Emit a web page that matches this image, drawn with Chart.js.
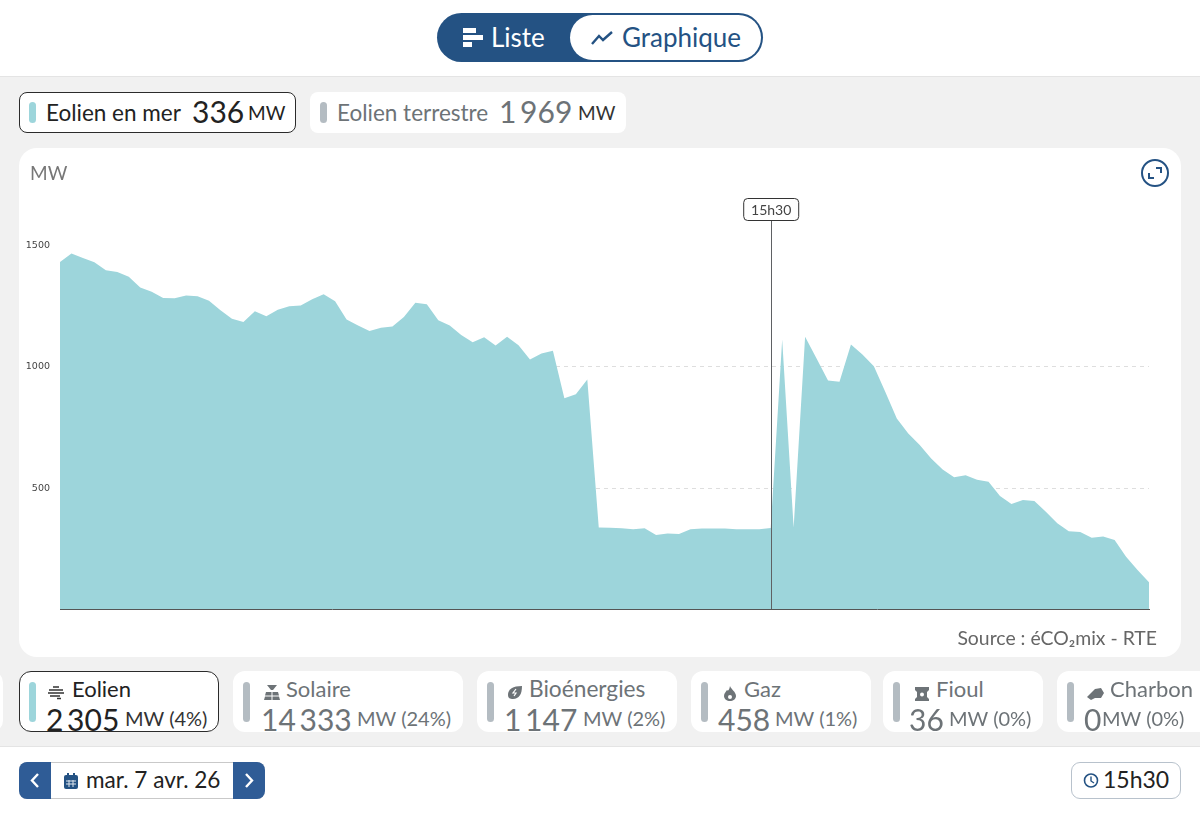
<!DOCTYPE html>
<html lang="fr">
<head>
<meta charset="utf-8">
<title>Eolien en mer</title>
<script src="https://cdn.jsdelivr.net/npm/chart.js@4"></script>
<style>
html, body { margin: 0; padding: 0; width: 1200px; height: 813px; overflow: hidden; background: #fff; font-family: Lato, "Noto Sans", sans-serif; color: #6d7377; }
.abs, .chip, .mark, .t { position: absolute; }
.t { white-space: nowrap; line-height: 1; }
.num { word-spacing: -4px; }
.chip { background: #fff; border-radius: 12px; box-sizing: border-box; }
.chip.on { border: 1px solid #2b2b2b; color: #222; }
.mark { width: 7px; border-radius: 4px; background: #b4bcc2; }
.mark.on { background: #9dd5db; }
svg { position: absolute; }
</style>
</head>
<body>
<!-- bands -->
<div class="abs" style="left:0;top:76px;width:1200px;height:671px;background:#f1f1f1;border-top:1px solid #e4e4e4;border-bottom:1px solid #e4e4e4;box-sizing:border-box"></div>

<!-- toggle -->
<div class="abs" style="left:437px;top:13px;width:326px;height:49px;background:#245283;border-radius:25px"></div>
<div class="abs" style="left:570px;top:15px;width:191px;height:45px;background:#fff;border-radius:23px"></div>
<svg style="left:463px;top:28px" width="20" height="19"><rect width="13" height="5" fill="#fff"/><rect y="7" width="20" height="5" fill="#fff"/><rect y="14" width="9" height="5" fill="#fff"/></svg>
<div class="t" style="left:491px;top:24px;font-size:26px;color:#fff">Liste</div>
<svg style="left:591px;top:30px" width="22" height="16"><path d="M1 14 L8 6 L12 10 L21 2" fill="none" stroke="#245283" stroke-width="2.4"/></svg>
<div class="t" style="left:622px;top:24px;font-size:26px;color:#245283">Graphique</div>

<!-- sub filters -->
<div class="chip on" style="left:19px;top:92px;width:277px;height:41px;border-radius:8px"></div>
<div class="mark on" style="left:29px;top:102px;height:21px"></div>
<div class="t" style="left:46px;top:102px;font-size:22.5px;color:#222">Eolien en mer</div>
<div class="t" style="left:192px;top:96px;font-size:30px;color:#222">336</div>
<div class="t" style="left:248px;top:103px;font-size:19px;color:#222">MW</div>
<div class="chip" style="left:310px;top:92px;width:316px;height:41px;border-radius:8px"></div>
<div class="mark" style="left:320px;top:102px;height:21px"></div>
<div class="t" style="left:337px;top:102px;font-size:22.5px">Eolien terrestre</div>
<div class="t num" style="left:499px;top:96px;font-size:30px">1 969</div>
<div class="t" style="left:578px;top:103px;font-size:19px;color:#333">MW</div>

<!-- chart card -->
<div class="abs" style="left:19px;top:148px;width:1162px;height:509px;background:#fff;border-radius:18px"></div>
<div class="abs" style="left:19px;top:148px;width:1162px;height:509px"><canvas id="wind-chart"></canvas></div>
<div class="t" style="left:30px;top:163px;font-size:19px;color:#777">MW</div>
<svg style="left:1141px;top:159px" width="28" height="28"><circle cx="14" cy="14" r="13" fill="none" stroke="#245283" stroke-width="2"/><path d="M15 9 H20 V14 M8 14 V19 H13" fill="none" stroke="#245283" stroke-width="2"/></svg>
<div class="t" style="right:43px;top:628px;font-size:19.4px;color:#666">Source : éCO₂mix - RTE</div>

<!-- sector chips -->
<div class="chip" style="left:-20px;top:671px;width:23px;height:61px"></div>

<div class="chip on" style="left:19px;top:671px;width:200px;height:61px"></div>
<div class="mark on" style="left:29px;top:682px;height:40px"></div>
<svg style="left:48px;top:684px" width="18" height="16"><path d="M5 3 H11 M1 6 H15 M0 9 H16 M2 12 H12 M9 14.5 H13" stroke="#333" stroke-width="1.4" fill="none"/></svg>
<div class="t" style="left:72px;top:678px;font-size:22px;color:#222">Eolien</div>
<div class="t num" style="left:46px;top:704px;font-size:30px;color:#222">2 305</div>
<div class="t" style="left:125px;top:708px;font-size:20px;color:#333">MW (4%)</div>

<div class="chip" style="left:233px;top:671px;width:230px;height:61px"></div>
<div class="mark" style="left:243px;top:682px;height:40px"></div>
<svg style="left:264px;top:684px" width="16" height="17"><path d="M3 1 H13 L9 6 H7 Z M2 8 H7.5 V11.5 H1 Z M8.5 8 H14 L15 11.5 H8.5 Z M1 12.5 H7.5 V16 H0 Z M8.5 12.5 H15 L16 16 H8.5 Z" fill="#6d7377"/></svg>
<div class="t" style="left:286px;top:678px;font-size:22px">Solaire</div>
<div class="t num" style="left:261px;top:704px;font-size:30px">14 333</div>
<div class="t" style="left:357px;top:708px;font-size:20px">MW (24%)</div>

<div class="chip" style="left:477px;top:671px;width:200px;height:61px"></div>
<div class="mark" style="left:487px;top:682px;height:40px"></div>
<svg style="left:507px;top:685px" width="16" height="15"><path d="M1 10 C1 4 6 1 15 1 C15 9 12 14 6 14 C3 14 1 13 1 10 Z" fill="#6d7377"/><path d="M9 4 L6 8 H9 L7 11" stroke="#fff" stroke-width="1.2" fill="none"/></svg>
<div class="t" style="left:529px;top:678px;font-size:22.7px">Bioénergies</div>
<div class="t num" style="left:504px;top:704px;font-size:30px">1 147</div>
<div class="t" style="left:583px;top:708px;font-size:20px">MW (2%)</div>

<div class="chip" style="left:691px;top:671px;width:180px;height:61px"></div>
<div class="mark" style="left:701px;top:682px;height:40px"></div>
<svg style="left:723px;top:686px" width="14" height="15"><path d="M7 0 C8 3 13 6 13 10 C13 13 10 15 7 15 C4 15 1 13 1 10 C1 7 3 6 4 4 C5 5 6 5 7 0 Z" fill="#6d7377"/><circle cx="7" cy="11" r="2" fill="#fff"/></svg>
<div class="t" style="left:744px;top:678px;font-size:22px">Gaz</div>
<div class="t" style="left:718px;top:704px;font-size:30px">458</div>
<div class="t" style="left:775px;top:708px;font-size:20px">MW (1%)</div>

<div class="chip" style="left:883px;top:671px;width:160px;height:61px"></div>
<div class="mark" style="left:893px;top:682px;height:40px"></div>
<svg style="left:915px;top:687px" width="14" height="14"><path d="M0 0 H14 V3 L12 5 V10 L14 12 V14 H0 V12 L2 10 V5 L0 3 Z" fill="#6d7377"/><circle cx="7" cy="7.5" r="2" fill="#fff"/></svg>
<div class="t" style="left:936px;top:678px;font-size:22px">Fioul</div>
<div class="t" style="left:909px;top:704px;font-size:30px">36</div>
<div class="t" style="left:949px;top:708px;font-size:20px">MW (0%)</div>

<div class="chip" style="left:1057px;top:671px;width:170px;height:61px"></div>
<div class="mark" style="left:1067px;top:682px;height:40px"></div>
<svg style="left:1087px;top:688px" width="17" height="13"><path d="M0 9 L4 5 L8 1 L14 0 L17 5 L14 10 L8 10 L4 12 Z" fill="#6d7377"/></svg>
<div class="t" style="left:1110px;top:678px;font-size:22px">Charbon</div>
<div class="t" style="left:1084px;top:704px;font-size:30px">0</div>
<div class="t" style="left:1102px;top:708px;font-size:20px">MW (0%)</div>

<!-- date bar -->
<div class="abs" style="left:19px;top:762px;width:246px;height:37px;background:#fff;border-top:1px solid #c9c9c9;border-bottom:1px solid #c9c9c9;border-radius:8px;box-sizing:border-box"></div>
<div class="abs" style="left:19px;top:762px;width:32px;height:37px;background:#2f5c96;border-radius:8px 0 0 8px"></div>
<div class="abs" style="left:233px;top:762px;width:32px;height:37px;background:#2f5c96;border-radius:0 8px 8px 0"></div>
<svg style="left:29px;top:772px" width="12" height="17"><path d="M9 2 L3 8.5 L9 15" fill="none" stroke="#fff" stroke-width="2.4"/></svg>
<svg style="left:243px;top:772px" width="12" height="17"><path d="M3 2 L9 8.5 L3 15" fill="none" stroke="#fff" stroke-width="2.4"/></svg>
<svg style="left:64px;top:773px" width="14" height="16"><rect y="2" width="14" height="14" rx="2" fill="#245283"/><path d="M2 8 H12 M2 11 H12 M5 7 V14 M9 7 V14" stroke="#dfe6ee" stroke-width="1"/><rect x="3" width="2" height="3" fill="#245283"/><rect x="9" width="2" height="3" fill="#245283"/></svg>
<div class="t" style="left:86px;top:769px;font-size:22.6px;color:#222">mar. 7 avr. 26</div>
<div class="abs" style="left:1071px;top:762px;width:110px;height:37px;border:1px solid #b8c2cc;border-radius:9px;box-sizing:border-box"></div>
<svg style="left:1083px;top:772px" width="16" height="17"><circle cx="8" cy="8.5" r="6.5" fill="none" stroke="#245283" stroke-width="1.6"/><path d="M8 4.5 V9 L11 11" fill="none" stroke="#245283" stroke-width="1.4"/></svg>
<div class="t" style="left:1103px;top:768px;font-size:23px;color:#222">15h30</div>

<script>
// Quarter hours of the day
const times = [
    '00h00','00h15','00h30','00h45','01h00','01h15','01h30','01h45','02h00','02h15','02h30','02h45',
    '03h00','03h15','03h30','03h45','04h00','04h15','04h30','04h45','05h00','05h15','05h30','05h45',
    '06h00','06h15','06h30','06h45','07h00','07h15','07h30','07h45','08h00','08h15','08h30','08h45',
    '09h00','09h15','09h30','09h45','10h00','10h15','10h30','10h45','11h00','11h15','11h30','11h45',
    '12h00','12h15','12h30','12h45','13h00','13h15','13h30','13h45','14h00','14h15','14h30','14h45',
    '15h00','15h15','15h30','15h45','16h00','16h15','16h30','16h45','17h00','17h15','17h30','17h45',
    '18h00','18h15','18h30','18h45','19h00','19h15','19h30','19h45','20h00','20h15','20h30','20h45',
    '21h00','21h15','21h30','21h45','22h00','22h15','22h30','22h45','23h00','23h15','23h30','23h45'
];
// Eolien en mer (MW)
const offshoreMw = [
    1431,1466,1448,1430,1397,1390,1370,1326,1309,1283,1282,1293,
    1290,1272,1232,1197,1184,1228,1208,1235,1249,1252,1278,1298,
    1269,1194,1170,1147,1160,1165,1205,1263,1257,1191,1170,1130,
    1101,1121,1087,1123,1088,1030,1054,1066,870,887,947,338,
    337,335,330,335,307,313,311,330,334,334,334,330,
    331,330,336,1112,338,1123,1034,943,938,1091,1050,1002,
    896,787,725,677,622,577,545,553,534,526,467,435,
    451,447,403,355,322,319,295,301,286,217,163,112
];
const yTicks = [500, 1000, 1500];
const dashedTicks = [500, 1000];
const currentTime = '15h30';

// Vertical marker with its time tag
const timeMarker = {
    id: 'timeMarker',
    afterDatasetsDraw(chart) {
        const ctx = chart.ctx;
        const x = chart.scales.x.getPixelForValue(times.indexOf(currentTime));
        const bottom = chart.chartArea.bottom;
        ctx.save();
        ctx.strokeStyle = '#5f6164';
        ctx.lineWidth = 1;
        ctx.beginPath();
        ctx.moveTo(Math.round(x) + 0.5, 73);
        ctx.lineTo(Math.round(x) + 0.5, bottom);
        ctx.stroke();
        ctx.fillStyle = '#fff';
        ctx.strokeStyle = '#333';
        ctx.beginPath();
        ctx.roundRect(x - 27, 50.5, 55, 22, 4);
        ctx.fill();
        ctx.stroke();
        ctx.fillStyle = '#444';
        ctx.font = '14px Lato, "Noto Sans", sans-serif';
        ctx.textAlign = 'center';
        ctx.textBaseline = 'middle';
        ctx.fillText(currentTime, x + 0.5, 62);
        ctx.restore();
    }
};

new Chart(document.getElementById('wind-chart').getContext('2d'), {
    type: 'line',
    data: {
        labels: times,
        datasets: [{
            label: 'Eolien en mer',
            data: offshoreMw,
            fill: 'origin',
            backgroundColor: '#9dd5db',
            borderWidth: 0,
            pointRadius: 0,
            tension: 0
        }]
    },
    options: {
        responsive: true,
        maintainAspectRatio: false,
        animation: false,
        layout: { padding: { top: 73, right: 32, bottom: 47.5, left: 0 } },
        plugins: { legend: { display: false }, tooltip: { enabled: false } },
        scales: {
            x: {
                ticks: { display: false },
                grid: { display: false },
                border: { color: '#555', z: 1 },
                afterFit(scale) { scale.height = 0; }
            },
            y: {
                min: 0,
                max: 1600,
                afterBuildTicks(scale) { scale.ticks = yTicks.map(v => ({ value: v })); },
                afterFit(scale) { scale.width = 41; },
                ticks: {
                    padding: 10,
                    color: '#444',
                    font: { size: 9.5, family: '"DejaVu Sans", sans-serif' },
                    callback: value => String(value)
                },
                grid: {
                    drawTicks: false,
                    color: ctx => dashedTicks.includes(ctx.tick.value) ? '#dedede' : 'transparent'
                },
                border: { display: false, dash: [4, 4] }
            }
        }
    },
    plugins: [timeMarker]
});
</script>
</body>
</html>
